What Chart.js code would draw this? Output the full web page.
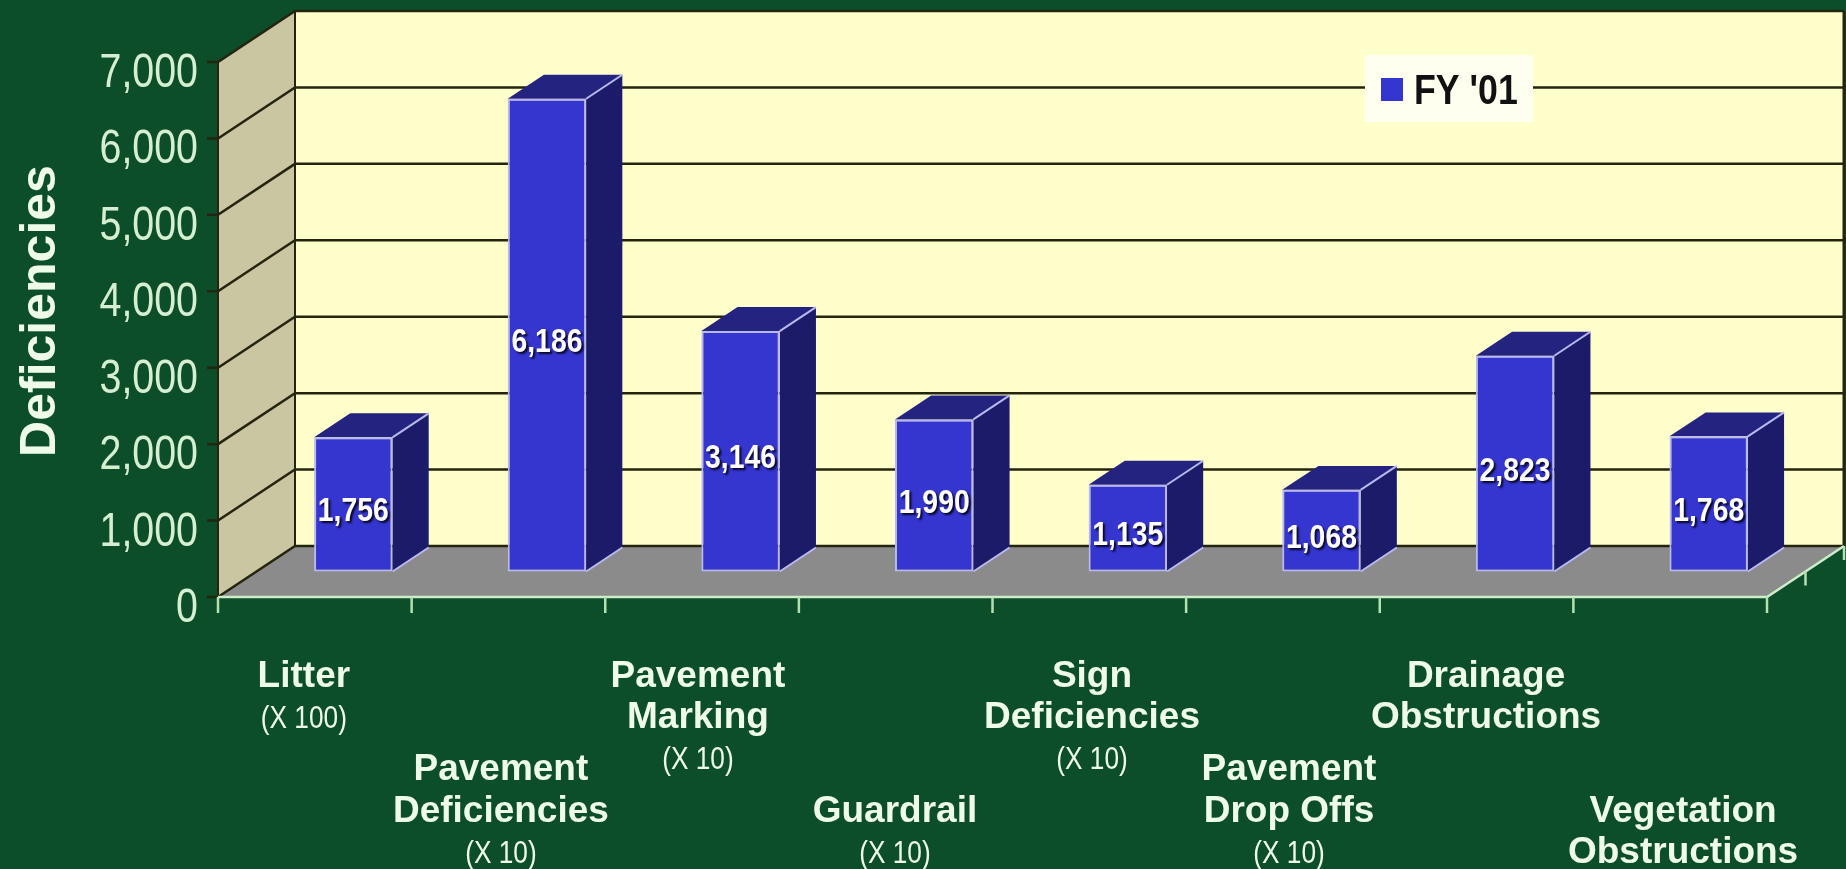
<!DOCTYPE html>
<html>
<head>
<meta charset="utf-8">
<script src="https://cdn.jsdelivr.net/npm/chart.js@4.4.1/dist/chart.umd.min.js"></script>
<style>
  html, body { margin: 0; padding: 0; background: #0c4e29; overflow: hidden; }
  canvas { display: block; }
</style>
</head>
<body>
<canvas id="chart" width="1846" height="869"></canvas>
<script>
// data
const categories = [
  ['Litter'],
  ['Pavement', 'Deficiencies'],
  ['Pavement', 'Marking'],
  ['Guardrail'],
  ['Sign', 'Deficiencies'],
  ['Pavement', 'Drop Offs'],
  ['Drainage', 'Obstructions'],
  ['Vegetation', 'Obstructions'],
];
const multipliers = ['(X 100)', '(X 10)', '(X 10)', '(X 10)', '(X 10)', '(X 10)', '', ''];
const fy01 = [1756, 6186, 3146, 1990, 1135, 1068, 2823, 1768];
const yTicks = [0, 1000, 2000, 3000, 4000, 5000, 6000, 7000];

// 3d room geometry
const DEPTH = { x: 77, y: -51 };
const BAR_FRONT = 0.5;
const BAR_DEPTH = 0.47;
const labelRow = [0, 1, 0, 1, 0, 1, 0, 1];
const labelStart = [0, 0, 0, 1, 0, 0, 0, 1];
const rowBaselines = [[687, 728, 769], [780, 822, 863]];

const TEXT = '#eefbea';
const SANS = '"Liberation Sans", Arial, sans-serif';

function squeezed(ctx, text, x, y, sx, align) {
  ctx.save();
  ctx.translate(x, y);
  ctx.scale(sx, 1);
  ctx.textAlign = align;
  ctx.fillText(text, 0, 0);
  ctx.restore();
}

function poly(ctx, pts, fill) {
  ctx.beginPath();
  ctx.moveTo(pts[0][0], pts[0][1]);
  for (let i = 1; i < pts.length; i++) ctx.lineTo(pts[i][0], pts[i][1]);
  ctx.closePath();
  ctx.fillStyle = fill;
  ctx.fill();
}

function line(ctx, pts, color, width) {
  ctx.beginPath();
  ctx.moveTo(pts[0][0], pts[0][1]);
  for (let i = 1; i < pts.length; i++) ctx.lineTo(pts[i][0], pts[i][1]);
  ctx.strokeStyle = color;
  ctx.lineWidth = width;
  ctx.stroke();
}

function barBox(bar) {
  const ox = DEPTH.x * BAR_FRONT, oy = DEPTH.y * BAR_FRONT;
  return {
    l: bar.x - bar.width / 2 + ox,
    r: bar.x + bar.width / 2 + ox,
    t: bar.y + oy,
    b: bar.base + oy,
    dx: DEPTH.x * BAR_DEPTH,
    dy: DEPTH.y * BAR_DEPTH,
  };
}

const room3d = {
  id: 'room3d',
  beforeDraw(chart) {
    const ctx = chart.ctx;
    ctx.save();
    ctx.fillStyle = '#0c4e29';
    ctx.fillRect(0, 0, chart.width, chart.height);
    ctx.restore();
  },
  beforeDatasetsDraw(chart) {
    const { ctx, chartArea: a, scales: { x, y } } = chart;
    const bx = DEPTH.x, by = DEPTH.y;
    ctx.save();
    // back wall
    ctx.fillStyle = '#ffffcc';
    ctx.fillRect(a.left + bx, a.top + by, a.right - a.left, a.bottom - a.top);
    // left wall
    poly(ctx, [[a.left, a.top], [a.left + bx, a.top + by], [a.left + bx, a.bottom + by], [a.left, a.bottom]], '#cbc6a2');
    // floor
    poly(ctx, [[a.left, a.bottom], [a.right, a.bottom], [a.right + bx, a.bottom + by], [a.left + bx, a.bottom + by]], '#8b8b8b');

    // grid lines
    y.ticks.forEach(t => {
      const yy = y.getPixelForValue(t.value);
      line(ctx, [[a.left - 11, yy], [a.left, yy], [a.left + bx, yy + by], [a.right + bx, yy + by]], '#25250f', 2.5);
    });
    line(ctx, [[a.left, a.top], [a.left, a.bottom]], '#25250f', 2);
    line(ctx, [[a.left + bx, a.top + by], [a.left + bx, a.bottom + by]], '#25250f', 2);
    line(ctx, [[a.right + bx, a.top + by], [a.right + bx, a.bottom + by]], '#25250f', 3);

    // front floor edge and category ticks
    line(ctx, [[a.left, a.bottom], [a.right, a.bottom], [a.right + bx, a.bottom + by]], '#cdeccb', 2.5);
    const n = chart.data.labels.length;
    const step = (a.right - a.left) / n;
    for (let i = 0; i <= n; i++) {
      const xx = x.getPixelForValue(0) - step / 2 + i * step;
      line(ctx, [[xx, a.bottom], [xx, a.bottom + 16]], '#b4e0b2', 2.5);
    }
    [0.5, 1].forEach(f => {
      const xx = a.right + bx * f, yy = a.bottom + by * f;
      line(ctx, [[xx, yy], [xx, yy + 14]], '#b4e0b2', 2.5);
    });

    // top and side faces of the bars
    chart.getDatasetMeta(0).data.forEach(bar => {
      const b = barBox(bar);
      poly(ctx, [[b.r, b.t], [b.r + b.dx, b.t + b.dy], [b.r + b.dx, b.b + b.dy], [b.r, b.b]], '#1c1b69');
      poly(ctx, [[b.l, b.t], [b.r, b.t], [b.r + b.dx, b.t + b.dy], [b.l + b.dx, b.t + b.dy]], '#24237f');
      line(ctx, [[b.r, b.t], [b.r + b.dx, b.t + b.dy]], '#b9b9f2', 2);
      line(ctx, [[b.r, b.b], [b.r + b.dx, b.b + b.dy]], '#b9b9f2', 2);
    });
    ctx.restore();

    // front faces are drawn by chart.js half way into the room
    ctx.save();
    ctx.translate(bx * BAR_FRONT, by * BAR_FRONT);
  },
  afterDatasetsDraw(chart) {
    const { ctx, chartArea: a, scales: { x, y } } = chart;
    ctx.restore();
    ctx.save();

    // value labels
    ctx.font = 'bold 33px ' + SANS;
    ctx.textBaseline = 'middle';
    ctx.fillStyle = '#ffffff';
    ctx.shadowColor = 'rgba(5, 5, 30, 0.95)';
    ctx.shadowOffsetX = 2;
    ctx.shadowOffsetY = 2;
    ctx.shadowBlur = 2;
    chart.getDatasetMeta(0).data.forEach((bar, i) => {
      const b = barBox(bar);
      const v = chart.data.datasets[0].data[i];
      squeezed(ctx, v.toLocaleString('en-US'), (b.l + b.r) / 2, (b.t + b.b) / 2 + 8, 0.86, 'center');
    });
    ctx.shadowColor = 'transparent';

    // y tick labels
    ctx.textBaseline = 'alphabetic';
    ctx.font = '48px ' + SANS;
    ctx.fillStyle = '#d6efd2';
    y.ticks.forEach(t => {
      const yy = y.getPixelForValue(t.value);
      squeezed(ctx, t.value.toLocaleString('en-US'), a.left - 20, yy + 25, 0.82, 'right');
    });

    // axis title
    ctx.save();
    ctx.translate(55, 311);
    ctx.rotate(-Math.PI / 2);
    ctx.font = 'bold 50px ' + SANS;
    ctx.fillStyle = TEXT;
    ctx.textAlign = 'center';
    ctx.fillText('Deficiencies', 0, 0);
    ctx.restore();

    // category labels, staggered in two rows
    ctx.fillStyle = TEXT;
    chart.data.labels.forEach((lines, i) => {
      const cx = x.getPixelForValue(i) * 1.0176 - 16.5;
      const rows = rowBaselines[labelRow[i]];
      let k = labelStart[i];
      ctx.font = 'bold 37px ' + SANS;
      lines.forEach(txt => {
        ctx.textAlign = 'center';
        ctx.fillText(txt, cx, rows[k]);
        k++;
      });
      if (multipliers[i]) {
        ctx.font = '32px ' + SANS;
        squeezed(ctx, multipliers[i], cx, rows[k], 0.82, 'center');
      }
    });

    // legend
    const ds = chart.data.datasets[0];
    ctx.fillStyle = '#fffff0';
    ctx.fillRect(1365, 55, 168, 67);
    ctx.fillStyle = ds.backgroundColor;
    ctx.fillRect(1381, 78, 22, 23);
    ctx.fillStyle = '#111111';
    ctx.font = 'bold 42px ' + SANS;
    squeezed(ctx, ds.label, 1414, 104, 0.85, 'left');

    ctx.restore();
  },
};

new Chart(document.getElementById('chart'), {
  type: 'bar',
  data: {
    labels: categories,
    datasets: [{
      label: "FY '01",
      data: fy01,
      backgroundColor: '#3535d0',
      borderColor: '#b9b9f2',
      borderWidth: 2,
      borderSkipped: false,
      categoryPercentage: 1,
      barPercentage: 0.405,
      clip: false,
    }],
  },
  options: {
    responsive: false,
    animation: false,
    devicePixelRatio: 1,
    layout: { padding: { left: 218, right: 79, top: 62, bottom: 272 } },
    scales: {
      x: { display: false, offset: true },
      y: {
        display: false,
        min: yTicks[0],
        max: yTicks[yTicks.length - 1],
        ticks: { stepSize: yTicks[1] - yTicks[0] },
      },
    },
    plugins: {
      legend: { display: false },
      tooltip: { enabled: false },
    },
  },
  plugins: [room3d],
});
</script>
</body>
</html>
